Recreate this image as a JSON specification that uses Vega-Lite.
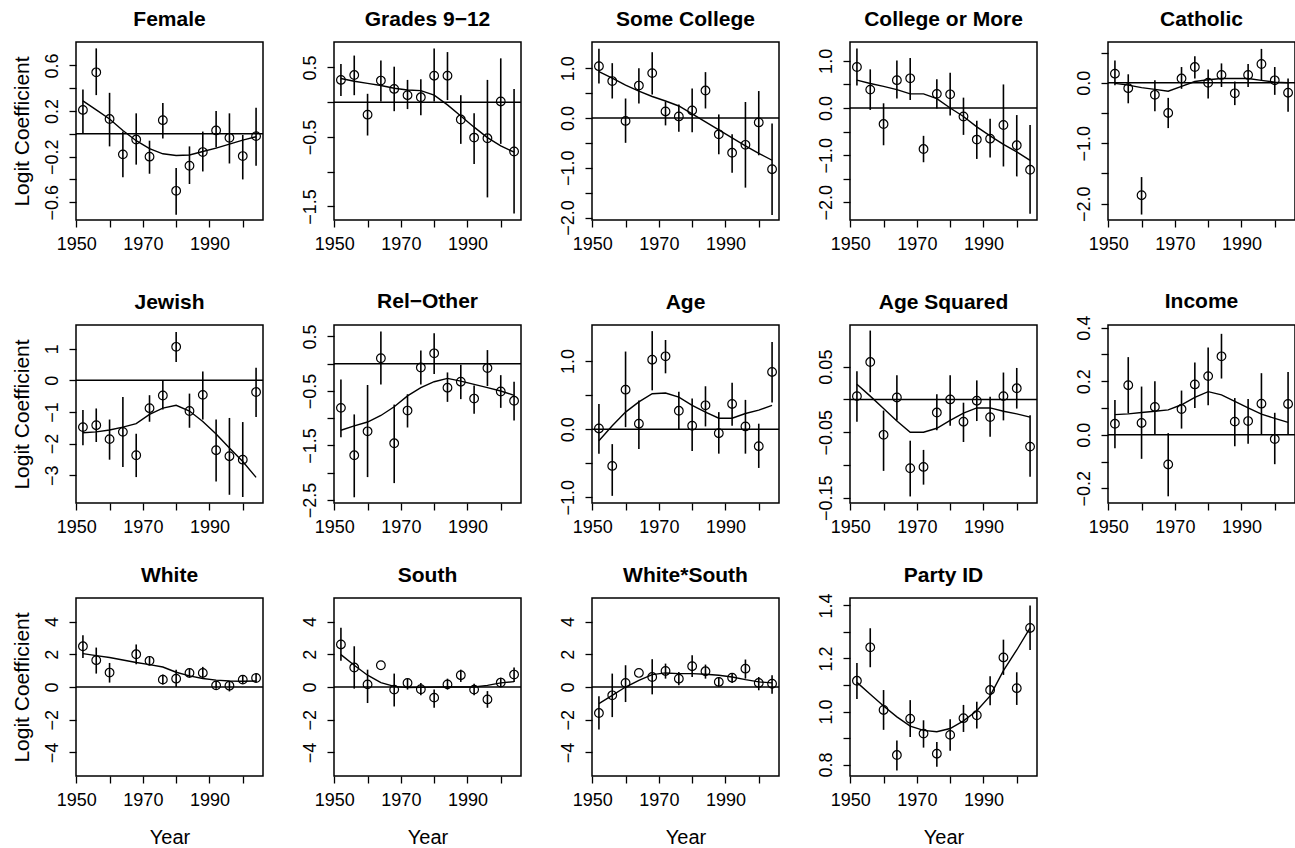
{
  "$schema": "https://vega.github.io/schema/vega-lite/v6.json",
  "padding": {"left": 10, "top": 8, "right": 0, "bottom": 0},
  "background": "white",
  "datasets": {
    "coef": [
      {"p": "Female", "yr": 1952, "est": 0.21, "lo": 0.0, "hi": 0.39, "fit": 0.29},
      {"p": "Female", "yr": 1956, "est": 0.54, "lo": 0.34, "hi": 0.75, "fit": 0.21},
      {"p": "Female", "yr": 1960, "est": 0.13, "lo": -0.11, "hi": 0.36, "fit": 0.13},
      {"p": "Female", "yr": 1964, "est": -0.18, "lo": -0.38, "hi": 0.02, "fit": 0.03},
      {"p": "Female", "yr": 1968, "est": -0.05, "lo": -0.27, "hi": 0.18, "fit": -0.06},
      {"p": "Female", "yr": 1972, "est": -0.2, "lo": -0.35, "hi": -0.06, "fit": -0.13},
      {"p": "Female", "yr": 1976, "est": 0.12, "lo": -0.04, "hi": 0.27, "fit": -0.175},
      {"p": "Female", "yr": 1980, "est": -0.5, "lo": -0.71, "hi": -0.3, "fit": -0.19},
      {"p": "Female", "yr": 1984, "est": -0.28, "lo": -0.44, "hi": -0.11, "fit": -0.185},
      {"p": "Female", "yr": 1988, "est": -0.16, "lo": -0.33, "hi": 0.02, "fit": -0.155},
      {"p": "Female", "yr": 1992, "est": 0.03, "lo": -0.12, "hi": 0.2, "fit": -0.125},
      {"p": "Female", "yr": 1996, "est": -0.035, "lo": -0.26, "hi": 0.18, "fit": -0.09},
      {"p": "Female", "yr": 2000, "est": -0.195, "lo": -0.4, "hi": -0.01, "fit": -0.055},
      {"p": "Female", "yr": 2004, "est": -0.02, "lo": -0.28, "hi": 0.23, "fit": -0.025},

      {"p": "Grades", "yr": 1952, "est": 0.32, "lo": 0.09, "hi": 0.55, "fit": 0.34},
      {"p": "Grades", "yr": 1956, "est": 0.39, "lo": 0.1, "hi": 0.67, "fit": 0.3},
      {"p": "Grades", "yr": 1960, "est": -0.18, "lo": -0.48, "hi": 0.12, "fit": 0.27},
      {"p": "Grades", "yr": 1964, "est": 0.31, "lo": 0.01, "hi": 0.6, "fit": 0.24},
      {"p": "Grades", "yr": 1968, "est": 0.19, "lo": -0.13, "hi": 0.51, "fit": 0.2},
      {"p": "Grades", "yr": 1972, "est": 0.1, "lo": -0.1, "hi": 0.32, "fit": 0.175},
      {"p": "Grades", "yr": 1976, "est": 0.07, "lo": -0.19, "hi": 0.33, "fit": 0.165},
      {"p": "Grades", "yr": 1980, "est": 0.38, "lo": 0.01, "hi": 0.77, "fit": 0.1},
      {"p": "Grades", "yr": 1984, "est": 0.38, "lo": 0.03, "hi": 0.72, "fit": -0.04},
      {"p": "Grades", "yr": 1988, "est": -0.25, "lo": -0.6, "hi": 0.1, "fit": -0.2},
      {"p": "Grades", "yr": 1992, "est": -0.51, "lo": -0.89, "hi": -0.16, "fit": -0.36},
      {"p": "Grades", "yr": 1996, "est": -0.52, "lo": -1.37, "hi": 0.32, "fit": -0.51},
      {"p": "Grades", "yr": 2000, "est": 0.01, "lo": -0.6, "hi": 0.63, "fit": -0.63},
      {"p": "Grades", "yr": 2004, "est": -0.71, "lo": -1.6, "hi": 0.19, "fit": -0.72},

      {"p": "SomeCollege", "yr": 1952, "est": 1.04, "lo": 0.69, "hi": 1.39, "fit": 0.93},
      {"p": "SomeCollege", "yr": 1956, "est": 0.74, "lo": 0.39, "hi": 1.1, "fit": 0.8},
      {"p": "SomeCollege", "yr": 1960, "est": -0.06, "lo": -0.5, "hi": 0.39, "fit": 0.66},
      {"p": "SomeCollege", "yr": 1964, "est": 0.65, "lo": 0.29, "hi": 1.0, "fit": 0.54},
      {"p": "SomeCollege", "yr": 1968, "est": 0.9, "lo": 0.47, "hi": 1.32, "fit": 0.43},
      {"p": "SomeCollege", "yr": 1972, "est": 0.13, "lo": -0.15, "hi": 0.33, "fit": 0.34},
      {"p": "SomeCollege", "yr": 1976, "est": 0.03, "lo": -0.28, "hi": 0.27, "fit": 0.24},
      {"p": "SomeCollege", "yr": 1980, "est": 0.15, "lo": -0.29, "hi": 0.59, "fit": 0.08},
      {"p": "SomeCollege", "yr": 1984, "est": 0.55, "lo": 0.19, "hi": 0.92, "fit": -0.08},
      {"p": "SomeCollege", "yr": 1988, "est": -0.33, "lo": -0.73, "hi": 0.07, "fit": -0.24},
      {"p": "SomeCollege", "yr": 1992, "est": -0.7, "lo": -1.1, "hi": -0.33, "fit": -0.4},
      {"p": "SomeCollege", "yr": 1996, "est": -0.54, "lo": -1.4, "hi": 0.32, "fit": -0.56},
      {"p": "SomeCollege", "yr": 2000, "est": -0.09, "lo": -0.75, "hi": 0.54, "fit": -0.71},
      {"p": "SomeCollege", "yr": 2004, "est": -1.03, "lo": -1.95, "hi": -0.11, "fit": -0.85},

      {"p": "College", "yr": 1952, "est": 0.87, "lo": 0.48, "hi": 1.26, "fit": 0.59},
      {"p": "College", "yr": 1956, "est": 0.39, "lo": -0.04, "hi": 0.82, "fit": 0.52},
      {"p": "College", "yr": 1960, "est": -0.34, "lo": -0.79, "hi": 0.1, "fit": 0.46},
      {"p": "College", "yr": 1964, "est": 0.59, "lo": 0.2, "hi": 1.01, "fit": 0.39},
      {"p": "College", "yr": 1968, "est": 0.63, "lo": 0.17, "hi": 1.06, "fit": 0.3},
      {"p": "College", "yr": 1972, "est": -0.87, "lo": -1.15, "hi": -0.59, "fit": 0.3},
      {"p": "College", "yr": 1976, "est": 0.3, "lo": -0.01, "hi": 0.61, "fit": 0.2},
      {"p": "College", "yr": 1980, "est": 0.29, "lo": -0.16, "hi": 0.75, "fit": 0.0},
      {"p": "College", "yr": 1984, "est": -0.18, "lo": -0.57, "hi": 0.22, "fit": -0.18},
      {"p": "College", "yr": 1988, "est": -0.67, "lo": -1.08, "hi": -0.27, "fit": -0.4},
      {"p": "College", "yr": 1992, "est": -0.65, "lo": -1.05, "hi": -0.23, "fit": -0.59},
      {"p": "College", "yr": 1996, "est": -0.36, "lo": -1.24, "hi": 0.5, "fit": -0.77},
      {"p": "College", "yr": 2000, "est": -0.79, "lo": -1.45, "hi": -0.15, "fit": -0.93},
      {"p": "College", "yr": 2004, "est": -1.31, "lo": -2.24, "hi": -0.36, "fit": -1.11},

      {"p": "Catholic", "yr": 1952, "est": 0.15, "lo": -0.04, "hi": 0.37, "fit": -0.01},
      {"p": "Catholic", "yr": 1956, "est": -0.09, "lo": -0.34, "hi": 0.14, "fit": -0.04},
      {"p": "Catholic", "yr": 1960, "est": -1.86, "lo": -2.18, "hi": -1.56, "fit": -0.08},
      {"p": "Catholic", "yr": 1964, "est": -0.2, "lo": -0.47, "hi": 0.04, "fit": -0.11},
      {"p": "Catholic", "yr": 1968, "est": -0.5, "lo": -0.75, "hi": -0.25, "fit": -0.14},
      {"p": "Catholic", "yr": 1972, "est": 0.07, "lo": -0.1, "hi": 0.26, "fit": -0.06},
      {"p": "Catholic", "yr": 1976, "est": 0.26, "lo": 0.07, "hi": 0.44, "fit": 0.02},
      {"p": "Catholic", "yr": 1980, "est": 0.0, "lo": -0.26, "hi": 0.22, "fit": 0.05},
      {"p": "Catholic", "yr": 1984, "est": 0.13, "lo": -0.07, "hi": 0.32, "fit": 0.07},
      {"p": "Catholic", "yr": 1988, "est": -0.175, "lo": -0.37, "hi": 0.02, "fit": 0.07},
      {"p": "Catholic", "yr": 1992, "est": 0.13, "lo": -0.07, "hi": 0.31, "fit": 0.07},
      {"p": "Catholic", "yr": 1996, "est": 0.31, "lo": 0.04, "hi": 0.56, "fit": 0.04},
      {"p": "Catholic", "yr": 2000, "est": 0.04, "lo": -0.2, "hi": 0.26, "fit": 0.01},
      {"p": "Catholic", "yr": 2004, "est": -0.165, "lo": -0.48, "hi": 0.07, "fit": 0.0},

      {"p": "Jewish", "yr": 1952, "est": -1.48, "lo": -2.05, "hi": -0.94, "fit": -1.66},
      {"p": "Jewish", "yr": 1956, "est": -1.42, "lo": -1.95, "hi": -0.89, "fit": -1.63},
      {"p": "Jewish", "yr": 1960, "est": -1.86, "lo": -2.51, "hi": -1.24, "fit": -1.57},
      {"p": "Jewish", "yr": 1964, "est": -1.63, "lo": -2.74, "hi": -0.53, "fit": -1.48},
      {"p": "Jewish", "yr": 1968, "est": -2.37, "lo": -3.06, "hi": -1.69, "fit": -1.37},
      {"p": "Jewish", "yr": 1972, "est": -0.88, "lo": -1.31, "hi": -0.47, "fit": -1.08},
      {"p": "Jewish", "yr": 1976, "est": -0.48, "lo": -0.92, "hi": 0.0, "fit": -0.88},
      {"p": "Jewish", "yr": 1980, "est": 1.06, "lo": 0.58, "hi": 1.53, "fit": -0.79},
      {"p": "Jewish", "yr": 1984, "est": -0.97, "lo": -1.5, "hi": -0.42, "fit": -0.97},
      {"p": "Jewish", "yr": 1988, "est": -0.46, "lo": -1.24, "hi": 0.28, "fit": -1.3},
      {"p": "Jewish", "yr": 1992, "est": -2.21, "lo": -3.2, "hi": -1.24, "fit": -1.7},
      {"p": "Jewish", "yr": 1996, "est": -2.4, "lo": -3.62, "hi": -1.19, "fit": -2.14},
      {"p": "Jewish", "yr": 2000, "est": -2.51, "lo": -3.69, "hi": -1.32, "fit": -2.57},
      {"p": "Jewish", "yr": 2004, "est": -0.37, "lo": -1.16, "hi": 0.4, "fit": -3.07},

      {"p": "RelOther", "yr": 1952, "est": -0.81, "lo": -1.35, "hi": -0.29, "fit": -1.22},
      {"p": "RelOther", "yr": 1956, "est": -1.68, "lo": -2.45, "hi": -0.93, "fit": -1.14},
      {"p": "RelOther", "yr": 1960, "est": -1.24, "lo": -2.08, "hi": -0.39, "fit": -1.07},
      {"p": "RelOther", "yr": 1964, "est": 0.1, "lo": -0.38, "hi": 0.59, "fit": -0.95},
      {"p": "RelOther", "yr": 1968, "est": -1.46, "lo": -2.19, "hi": -0.75, "fit": -0.79},
      {"p": "RelOther", "yr": 1972, "est": -0.86, "lo": -1.17, "hi": -0.56, "fit": -0.59},
      {"p": "RelOther", "yr": 1976, "est": -0.07, "lo": -0.38, "hi": 0.24, "fit": -0.44},
      {"p": "RelOther", "yr": 1980, "est": 0.19, "lo": -0.19, "hi": 0.56, "fit": -0.33},
      {"p": "RelOther", "yr": 1984, "est": -0.44, "lo": -0.7, "hi": -0.16, "fit": -0.27},
      {"p": "RelOther", "yr": 1988, "est": -0.33, "lo": -0.65, "hi": -0.02, "fit": -0.32},
      {"p": "RelOther", "yr": 1992, "est": -0.64, "lo": -0.92, "hi": -0.4, "fit": -0.38},
      {"p": "RelOther", "yr": 1996, "est": -0.08, "lo": -0.41, "hi": 0.25, "fit": -0.44},
      {"p": "RelOther", "yr": 2000, "est": -0.51, "lo": -0.81, "hi": -0.21, "fit": -0.5},
      {"p": "RelOther", "yr": 2004, "est": -0.68, "lo": -1.04, "hi": -0.33, "fit": -0.58},

      {"p": "Age", "yr": 1952, "est": 0.01, "lo": -0.36, "hi": 0.37, "fit": -0.17},
      {"p": "Age", "yr": 1956, "est": -0.54, "lo": -0.98, "hi": -0.22, "fit": 0.05},
      {"p": "Age", "yr": 1960, "est": 0.58, "lo": 0.03, "hi": 1.14, "fit": 0.25},
      {"p": "Age", "yr": 1964, "est": 0.08, "lo": -0.29, "hi": 0.42, "fit": 0.4},
      {"p": "Age", "yr": 1968, "est": 1.02, "lo": 0.57, "hi": 1.44, "fit": 0.52},
      {"p": "Age", "yr": 1972, "est": 1.07, "lo": 0.82, "hi": 1.31, "fit": 0.53},
      {"p": "Age", "yr": 1976, "est": 0.27, "lo": -0.01, "hi": 0.55, "fit": 0.47},
      {"p": "Age", "yr": 1980, "est": 0.05, "lo": -0.32, "hi": 0.45, "fit": 0.35},
      {"p": "Age", "yr": 1984, "est": 0.35, "lo": 0.04, "hi": 0.63, "fit": 0.25},
      {"p": "Age", "yr": 1988, "est": -0.06, "lo": -0.36, "hi": 0.25, "fit": 0.16},
      {"p": "Age", "yr": 1992, "est": 0.37, "lo": 0.05, "hi": 0.68, "fit": 0.16},
      {"p": "Age", "yr": 1996, "est": 0.04, "lo": -0.36, "hi": 0.43, "fit": 0.23},
      {"p": "Age", "yr": 2000, "est": -0.25, "lo": -0.57, "hi": 0.08, "fit": 0.28},
      {"p": "Age", "yr": 2004, "est": 0.84, "lo": 0.39, "hi": 1.28, "fit": 0.35},

      {"p": "AgeSq", "yr": 1952, "est": 0.005, "lo": -0.034, "hi": 0.043, "fit": 0.023},
      {"p": "AgeSq", "yr": 1956, "est": 0.057, "lo": 0.011, "hi": 0.105, "fit": 0.005},
      {"p": "AgeSq", "yr": 1960, "est": -0.054, "lo": -0.109, "hi": -0.017, "fit": -0.014},
      {"p": "AgeSq", "yr": 1964, "est": 0.003, "lo": -0.032, "hi": 0.037, "fit": -0.033},
      {"p": "AgeSq", "yr": 1968, "est": -0.105, "lo": -0.148, "hi": -0.063, "fit": -0.05},
      {"p": "AgeSq", "yr": 1972, "est": -0.103, "lo": -0.13, "hi": -0.077, "fit": -0.05},
      {"p": "AgeSq", "yr": 1976, "est": -0.02, "lo": -0.047, "hi": 0.008, "fit": -0.044},
      {"p": "AgeSq", "yr": 1980, "est": 0.0, "lo": -0.04, "hi": 0.037, "fit": -0.032},
      {"p": "AgeSq", "yr": 1984, "est": -0.034, "lo": -0.065, "hi": -0.005, "fit": -0.021},
      {"p": "AgeSq", "yr": 1988, "est": -0.002, "lo": -0.033, "hi": 0.029, "fit": -0.013},
      {"p": "AgeSq", "yr": 1992, "est": -0.027, "lo": -0.057, "hi": 0.004, "fit": -0.013},
      {"p": "AgeSq", "yr": 1996, "est": 0.005, "lo": -0.032, "hi": 0.041, "fit": -0.018},
      {"p": "AgeSq", "yr": 2000, "est": 0.017, "lo": -0.014, "hi": 0.048, "fit": -0.022},
      {"p": "AgeSq", "yr": 2004, "est": -0.072, "lo": -0.118, "hi": -0.024, "fit": -0.027},

      {"p": "Income", "yr": 1952, "est": 0.041, "lo": -0.05, "hi": 0.13, "fit": 0.075},
      {"p": "Income", "yr": 1956, "est": 0.185, "lo": 0.08, "hi": 0.29, "fit": 0.078},
      {"p": "Income", "yr": 1960, "est": 0.044, "lo": -0.09, "hi": 0.18, "fit": 0.083},
      {"p": "Income", "yr": 1964, "est": 0.104, "lo": 0.0, "hi": 0.2, "fit": 0.088},
      {"p": "Income", "yr": 1968, "est": -0.111, "lo": -0.23, "hi": 0.006, "fit": 0.093},
      {"p": "Income", "yr": 1972, "est": 0.096, "lo": 0.023, "hi": 0.165, "fit": 0.112},
      {"p": "Income", "yr": 1976, "est": 0.188, "lo": 0.1, "hi": 0.27, "fit": 0.14},
      {"p": "Income", "yr": 1980, "est": 0.219, "lo": 0.11, "hi": 0.326, "fit": 0.161},
      {"p": "Income", "yr": 1984, "est": 0.293, "lo": 0.21, "hi": 0.377, "fit": 0.149},
      {"p": "Income", "yr": 1988, "est": 0.049, "lo": -0.043, "hi": 0.137, "fit": 0.125},
      {"p": "Income", "yr": 1992, "est": 0.051, "lo": -0.034, "hi": 0.134, "fit": 0.1},
      {"p": "Income", "yr": 1996, "est": 0.116, "lo": 0.0, "hi": 0.23, "fit": 0.077},
      {"p": "Income", "yr": 2000, "est": -0.016, "lo": -0.11, "hi": 0.082, "fit": 0.061},
      {"p": "Income", "yr": 2004, "est": 0.115, "lo": 0.0, "hi": 0.234, "fit": 0.046},

      {"p": "White", "yr": 1952, "est": 2.49, "lo": 1.78, "hi": 3.17, "fit": 2.04},
      {"p": "White", "yr": 1956, "est": 1.64, "lo": 0.82, "hi": 2.41, "fit": 1.92},
      {"p": "White", "yr": 1960, "est": 0.88, "lo": 0.27, "hi": 1.47, "fit": 1.8},
      {"p": "White", "yr": 1964, "est": null, "lo": null, "hi": null, "fit": 1.65},
      {"p": "White", "yr": 1968, "est": 2.0, "lo": 1.39, "hi": 2.6, "fit": 1.5},
      {"p": "White", "yr": 1972, "est": 1.6, "lo": 1.33, "hi": 1.88, "fit": 1.37},
      {"p": "White", "yr": 1976, "est": 0.45, "lo": 0.16, "hi": 0.76, "fit": 1.22},
      {"p": "White", "yr": 1980, "est": 0.51, "lo": 0.0, "hi": 1.06, "fit": 0.9},
      {"p": "White", "yr": 1984, "est": 0.86, "lo": 0.57, "hi": 1.12, "fit": 0.68},
      {"p": "White", "yr": 1988, "est": 0.86, "lo": 0.51, "hi": 1.23, "fit": 0.52},
      {"p": "White", "yr": 1992, "est": 0.1, "lo": -0.1, "hi": 0.37, "fit": 0.42},
      {"p": "White", "yr": 1996, "est": 0.08, "lo": -0.27, "hi": 0.37, "fit": 0.37},
      {"p": "White", "yr": 2000, "est": 0.45, "lo": 0.2, "hi": 0.72, "fit": 0.35},
      {"p": "White", "yr": 2004, "est": 0.55, "lo": 0.29, "hi": 0.82, "fit": 0.37},

      {"p": "South", "yr": 1952, "est": 2.6, "lo": 1.6, "hi": 3.62, "fit": 1.98},
      {"p": "South", "yr": 1956, "est": 1.19, "lo": -0.1, "hi": 2.49, "fit": 1.33},
      {"p": "South", "yr": 1960, "est": 0.16, "lo": -0.98, "hi": 1.06, "fit": 0.72},
      {"p": "South", "yr": 1964, "est": 1.33, "lo": null, "hi": null, "fit": 0.27},
      {"p": "South", "yr": 1968, "est": -0.16, "lo": -1.19, "hi": 0.82, "fit": 0.04},
      {"p": "South", "yr": 1972, "est": 0.25, "lo": -0.16, "hi": 0.51, "fit": -0.04},
      {"p": "South", "yr": 1976, "est": -0.14, "lo": -0.51, "hi": 0.25, "fit": -0.02},
      {"p": "South", "yr": 1980, "est": -0.65, "lo": -1.27, "hi": -0.16, "fit": -0.01},
      {"p": "South", "yr": 1984, "est": 0.16, "lo": -0.16, "hi": 0.51, "fit": 0.0},
      {"p": "South", "yr": 1988, "est": 0.72, "lo": 0.31, "hi": 1.06, "fit": 0.0},
      {"p": "South", "yr": 1992, "est": -0.16, "lo": -0.51, "hi": 0.2, "fit": 0.0},
      {"p": "South", "yr": 1996, "est": -0.76, "lo": -1.27, "hi": -0.25, "fit": 0.1},
      {"p": "South", "yr": 2000, "est": 0.27, "lo": 0.0, "hi": 0.57, "fit": 0.25},
      {"p": "South", "yr": 2004, "est": 0.76, "lo": 0.31, "hi": 1.19, "fit": 0.33},

      {"p": "WhiteSouth", "yr": 1952, "est": -1.59, "lo": -2.6, "hi": -0.57, "fit": -1.02},
      {"p": "WhiteSouth", "yr": 1956, "est": -0.51, "lo": -1.84, "hi": 0.82, "fit": -0.51},
      {"p": "WhiteSouth", "yr": 1960, "est": 0.25, "lo": -0.92, "hi": 1.33, "fit": 0.0},
      {"p": "WhiteSouth", "yr": 1964, "est": 0.86, "lo": null, "hi": null, "fit": 0.41},
      {"p": "WhiteSouth", "yr": 1968, "est": 0.61, "lo": -0.45, "hi": 1.7, "fit": 0.76},
      {"p": "WhiteSouth", "yr": 1972, "est": 0.98, "lo": 0.51, "hi": 1.43, "fit": 0.86},
      {"p": "WhiteSouth", "yr": 1976, "est": 0.51, "lo": 0.1, "hi": 0.92, "fit": 0.82},
      {"p": "WhiteSouth", "yr": 1980, "est": 1.27, "lo": 0.61, "hi": 1.94, "fit": 0.82},
      {"p": "WhiteSouth", "yr": 1984, "est": 0.96, "lo": 0.51, "hi": 1.37, "fit": 0.78},
      {"p": "WhiteSouth", "yr": 1988, "est": 0.31, "lo": 0.0, "hi": 0.61, "fit": 0.72},
      {"p": "WhiteSouth", "yr": 1992, "est": 0.57, "lo": 0.25, "hi": 0.86, "fit": 0.61},
      {"p": "WhiteSouth", "yr": 1996, "est": 1.12, "lo": 0.51, "hi": 1.68, "fit": 0.45},
      {"p": "WhiteSouth", "yr": 2000, "est": 0.25, "lo": -0.2, "hi": 0.61, "fit": 0.31},
      {"p": "WhiteSouth", "yr": 2004, "est": 0.2, "lo": -0.41, "hi": 0.72, "fit": 0.25},

      {"p": "PartyID", "yr": 1952, "est": 1.116, "lo": 1.047, "hi": 1.183, "fit": 1.11},
      {"p": "PartyID", "yr": 1956, "est": 1.242, "lo": 1.167, "hi": 1.314, "fit": 1.065},
      {"p": "PartyID", "yr": 1960, "est": 1.006, "lo": 0.931, "hi": 1.081, "fit": 1.021},
      {"p": "PartyID", "yr": 1964, "est": 0.836, "lo": 0.778, "hi": 0.891, "fit": 0.98},
      {"p": "PartyID", "yr": 1968, "est": 0.973, "lo": 0.904, "hi": 1.043, "fit": 0.945},
      {"p": "PartyID", "yr": 1972, "est": 0.917, "lo": 0.864, "hi": 0.967, "fit": 0.929},
      {"p": "PartyID", "yr": 1976, "est": 0.841, "lo": 0.792, "hi": 0.885, "fit": 0.924},
      {"p": "PartyID", "yr": 1980, "est": 0.912, "lo": 0.852, "hi": 0.971, "fit": 0.936},
      {"p": "PartyID", "yr": 1984, "est": 0.975, "lo": 0.923, "hi": 1.025, "fit": 0.965},
      {"p": "PartyID", "yr": 1988, "est": 0.986, "lo": 0.936, "hi": 1.037, "fit": 1.003},
      {"p": "PartyID", "yr": 1992, "est": 1.081, "lo": 1.024, "hi": 1.133, "fit": 1.059},
      {"p": "PartyID", "yr": 1996, "est": 1.204, "lo": 1.138, "hi": 1.271, "fit": 1.154},
      {"p": "PartyID", "yr": 2000, "est": 1.088, "lo": 1.025, "hi": 1.148, "fit": 1.232},
      {"p": "PartyID", "yr": 2004, "est": 1.315, "lo": 1.232, "hi": 1.4, "fit": 1.315}
    ]
  },
  "data": {"name": "coef"},
  "spacing": 36,
  "vconcat": [
    {
      "spacing": 35,
      "hconcat": [
        {
          "title": "Female", "width": 187, "height": 178,
          "transform": [{"filter": "datum.p === 'Female'"}],
          "encoding": {
            "x": {"field": "yr", "type": "quantitative", "scale": {"domain": [1949.92, 2006.08], "nice": false, "zero": false}, "axis": {"values": [1950, 1960, 1970, 1980, 1990, 2000], "title": null}},
            "y": {"field": "est", "type": "quantitative", "scale": {"domain": [-0.756, 0.806], "nice": false, "zero": false},
                  "axis": {"values": [-0.6, -0.4, -0.2, 0, 0.2, 0.4, 0.6], "format": ".1f", "labelExpr": "indexof([-0.6, -0.2, 0.2, 0.6], datum.value) >= 0 ? datum.label : ''", "title": "Logit Coefficient"}}
          },
          "layer": [
            {"transform": [{"filter": "datum.yr === 1952"}], "mark": {"type": "rule", "color": "black", "strokeWidth": 1.5},
             "encoding": {"x": {"datum": 1949.92}, "x2": {"datum": 2006.08}, "y": {"datum": 0}}},
            {"mark": {"type": "rule", "color": "black", "strokeWidth": 1.6}, "encoding": {"y": {"field": "lo", "type": "quantitative"}, "y2": {"field": "hi"}}},
            {"mark": {"type": "line", "color": "black", "strokeWidth": 1.4}, "encoding": {"y": {"field": "fit", "type": "quantitative"}}},
            {"mark": {"type": "point", "shape": "circle", "filled": false, "color": "black", "size": 75, "strokeWidth": 1.2, "opacity": 1}}
          ]
        },
        {
          "title": "Grades 9−12", "width": 187, "height": 178,
          "transform": [{"filter": "datum.p === 'Grades'"}],
          "encoding": {
            "x": {"field": "yr", "type": "quantitative", "scale": {"domain": [1949.92, 2006.08], "nice": false, "zero": false}, "axis": {"values": [1950, 1960, 1970, 1980, 1990, 2000], "title": null}},
            "y": {"field": "est", "type": "quantitative", "scale": {"domain": [-1.695, 0.865], "nice": false, "zero": false},
                  "axis": {"values": [-1.5, -1, -0.5, 0, 0.5], "format": ".1f", "labelExpr": "indexof([-1.5, -0.5, 0.5], datum.value) >= 0 ? datum.label : ''", "title": null}}
          },
          "layer": [
            {"transform": [{"filter": "datum.yr === 1952"}], "mark": {"type": "rule", "color": "black", "strokeWidth": 1.5},
             "encoding": {"x": {"datum": 1949.92}, "x2": {"datum": 2006.08}, "y": {"datum": 0}}},
            {"mark": {"type": "rule", "color": "black", "strokeWidth": 1.6}, "encoding": {"y": {"field": "lo", "type": "quantitative"}, "y2": {"field": "hi"}}},
            {"mark": {"type": "line", "color": "black", "strokeWidth": 1.4}, "encoding": {"y": {"field": "fit", "type": "quantitative"}}},
            {"mark": {"type": "point", "shape": "circle", "filled": false, "color": "black", "size": 75, "strokeWidth": 1.2, "opacity": 1}}
          ]
        },
        {
          "title": "Some College", "width": 187, "height": 178,
          "transform": [{"filter": "datum.p === 'SomeCollege'"}],
          "encoding": {
            "x": {"field": "yr", "type": "quantitative", "scale": {"domain": [1949.92, 2006.08], "nice": false, "zero": false}, "axis": {"values": [1950, 1960, 1970, 1980, 1990, 2000], "title": null}},
            "y": {"field": "est", "type": "quantitative", "scale": {"domain": [-2.05, 1.525], "nice": false, "zero": false},
                  "axis": {"values": [-2, -1.5, -1, -0.5, 0, 0.5, 1], "format": ".1f", "labelExpr": "indexof([-2, -1, 0, 1], datum.value) >= 0 ? datum.label : ''", "title": null}}
          },
          "layer": [
            {"transform": [{"filter": "datum.yr === 1952"}], "mark": {"type": "rule", "color": "black", "strokeWidth": 1.5},
             "encoding": {"x": {"datum": 1949.92}, "x2": {"datum": 2006.08}, "y": {"datum": 0}}},
            {"mark": {"type": "rule", "color": "black", "strokeWidth": 1.6}, "encoding": {"y": {"field": "lo", "type": "quantitative"}, "y2": {"field": "hi"}}},
            {"mark": {"type": "line", "color": "black", "strokeWidth": 1.4}, "encoding": {"y": {"field": "fit", "type": "quantitative"}}},
            {"mark": {"type": "point", "shape": "circle", "filled": false, "color": "black", "size": 75, "strokeWidth": 1.2, "opacity": 1}}
          ]
        },
        {
          "title": "College or More", "width": 187, "height": 178,
          "transform": [{"filter": "datum.p === 'College'"}],
          "encoding": {
            "x": {"field": "yr", "type": "quantitative", "scale": {"domain": [1949.92, 2006.08], "nice": false, "zero": false}, "axis": {"values": [1950, 1960, 1970, 1980, 1990, 2000], "title": null}},
            "y": {"field": "est", "type": "quantitative", "scale": {"domain": [-2.375, 1.4], "nice": false, "zero": false},
                  "axis": {"values": [-2, -1.5, -1, -0.5, 0, 0.5, 1], "format": ".1f", "labelExpr": "indexof([-2, -1, 0, 1], datum.value) >= 0 ? datum.label : ''", "title": null}}
          },
          "layer": [
            {"transform": [{"filter": "datum.yr === 1952"}], "mark": {"type": "rule", "color": "black", "strokeWidth": 1.5},
             "encoding": {"x": {"datum": 1949.92}, "x2": {"datum": 2006.08}, "y": {"datum": 0}}},
            {"mark": {"type": "rule", "color": "black", "strokeWidth": 1.6}, "encoding": {"y": {"field": "lo", "type": "quantitative"}, "y2": {"field": "hi"}}},
            {"mark": {"type": "line", "color": "black", "strokeWidth": 1.4}, "encoding": {"y": {"field": "fit", "type": "quantitative"}}},
            {"mark": {"type": "point", "shape": "circle", "filled": false, "color": "black", "size": 75, "strokeWidth": 1.2, "opacity": 1}}
          ]
        },
        {
          "title": "Catholic", "width": 187, "height": 178,
          "transform": [{"filter": "datum.p === 'Catholic'"}],
          "encoding": {
            "x": {"field": "yr", "type": "quantitative", "scale": {"domain": [1949.92, 2006.08], "nice": false, "zero": false}, "axis": {"values": [1950, 1960, 1970, 1980, 1990, 2000], "title": null}},
            "y": {"field": "est", "type": "quantitative", "scale": {"domain": [-2.27, 0.674], "nice": false, "zero": false},
                  "axis": {"values": [-2, -1.5, -1, -0.5, 0, 0.5], "format": ".1f", "labelExpr": "indexof([-2, -1, 0], datum.value) >= 0 ? datum.label : ''", "title": null}}
          },
          "layer": [
            {"transform": [{"filter": "datum.yr === 1952"}], "mark": {"type": "rule", "color": "black", "strokeWidth": 1.5},
             "encoding": {"x": {"datum": 1949.92}, "x2": {"datum": 2006.08}, "y": {"datum": 0}}},
            {"mark": {"type": "rule", "color": "black", "strokeWidth": 1.6}, "encoding": {"y": {"field": "lo", "type": "quantitative"}, "y2": {"field": "hi"}}},
            {"mark": {"type": "line", "color": "black", "strokeWidth": 1.4}, "encoding": {"y": {"field": "fit", "type": "quantitative"}}},
            {"mark": {"type": "point", "shape": "circle", "filled": false, "color": "black", "size": 75, "strokeWidth": 1.2, "opacity": 1}}
          ]
        }
      ]
    },
    {
      "spacing": 27,
      "vconcat": [
        {
          "spacing": 35,
          "hconcat": [
            {
              "title": "Jewish", "width": 187, "height": 178,
              "transform": [{"filter": "datum.p === 'Jewish'"}],
              "encoding": {
                "x": {"field": "yr", "type": "quantitative", "scale": {"domain": [1949.92, 2006.08], "nice": false, "zero": false}, "axis": {"values": [1950, 1960, 1970, 1980, 1990, 2000], "title": null}},
                "y": {"field": "est", "type": "quantitative", "scale": {"domain": [-3.88, 1.75], "nice": false, "zero": false},
                      "axis": {"values": [-3, -2, -1, 0, 1], "format": "d", "title": "Logit Coefficient"}}
              },
              "layer": [
                {"transform": [{"filter": "datum.yr === 1952"}], "mark": {"type": "rule", "color": "black", "strokeWidth": 1.5},
                 "encoding": {"x": {"datum": 1949.92}, "x2": {"datum": 2006.08}, "y": {"datum": 0}}},
                {"mark": {"type": "rule", "color": "black", "strokeWidth": 1.6}, "encoding": {"y": {"field": "lo", "type": "quantitative"}, "y2": {"field": "hi"}}},
                {"mark": {"type": "line", "color": "black", "strokeWidth": 1.4}, "encoding": {"y": {"field": "fit", "type": "quantitative"}}},
                {"mark": {"type": "point", "shape": "circle", "filled": false, "color": "black", "size": 75, "strokeWidth": 1.2, "opacity": 1}}
              ]
            },
            {
              "title": "Rel−Other", "width": 187, "height": 178,
              "transform": [{"filter": "datum.p === 'RelOther'"}],
              "encoding": {
                "x": {"field": "yr", "type": "quantitative", "scale": {"domain": [1949.92, 2006.08], "nice": false, "zero": false}, "axis": {"values": [1950, 1960, 1970, 1980, 1990, 2000], "title": null}},
                "y": {"field": "est", "type": "quantitative", "scale": {"domain": [-2.555, 0.71], "nice": false, "zero": false},
                      "axis": {"values": [-2.5, -2, -1.5, -1, -0.5, 0, 0.5], "format": ".1f", "labelExpr": "indexof([-2.5, -1.5, -0.5, 0.5], datum.value) >= 0 ? datum.label : ''", "title": null}}
              },
              "layer": [
                {"transform": [{"filter": "datum.yr === 1952"}], "mark": {"type": "rule", "color": "black", "strokeWidth": 1.5},
                 "encoding": {"x": {"datum": 1949.92}, "x2": {"datum": 2006.08}, "y": {"datum": 0}}},
                {"mark": {"type": "rule", "color": "black", "strokeWidth": 1.6}, "encoding": {"y": {"field": "lo", "type": "quantitative"}, "y2": {"field": "hi"}}},
                {"mark": {"type": "line", "color": "black", "strokeWidth": 1.4}, "encoding": {"y": {"field": "fit", "type": "quantitative"}}},
                {"mark": {"type": "point", "shape": "circle", "filled": false, "color": "black", "size": 75, "strokeWidth": 1.2, "opacity": 1}}
              ]
            },
            {
              "title": "Age", "width": 187, "height": 178,
              "transform": [{"filter": "datum.p === 'Age'"}],
              "encoding": {
                "x": {"field": "yr", "type": "quantitative", "scale": {"domain": [1949.92, 2006.08], "nice": false, "zero": false}, "axis": {"values": [1950, 1960, 1970, 1980, 1990, 2000], "title": null}},
                "y": {"field": "est", "type": "quantitative", "scale": {"domain": [-1.085, 1.53], "nice": false, "zero": false},
                      "axis": {"values": [-1, -0.5, 0, 0.5, 1], "format": ".1f", "labelExpr": "indexof([-1, 0, 1], datum.value) >= 0 ? datum.label : ''", "title": null}}
              },
              "layer": [
                {"transform": [{"filter": "datum.yr === 1952"}], "mark": {"type": "rule", "color": "black", "strokeWidth": 1.5},
                 "encoding": {"x": {"datum": 1949.92}, "x2": {"datum": 2006.08}, "y": {"datum": 0}}},
                {"mark": {"type": "rule", "color": "black", "strokeWidth": 1.6}, "encoding": {"y": {"field": "lo", "type": "quantitative"}, "y2": {"field": "hi"}}},
                {"mark": {"type": "line", "color": "black", "strokeWidth": 1.4}, "encoding": {"y": {"field": "fit", "type": "quantitative"}}},
                {"mark": {"type": "point", "shape": "circle", "filled": false, "color": "black", "size": 75, "strokeWidth": 1.2, "opacity": 1}}
              ]
            },
            {
              "title": "Age Squared", "width": 187, "height": 178,
              "transform": [{"filter": "datum.p === 'AgeSq'"}],
              "encoding": {
                "x": {"field": "yr", "type": "quantitative", "scale": {"domain": [1949.92, 2006.08], "nice": false, "zero": false}, "axis": {"values": [1950, 1960, 1970, 1980, 1990, 2000], "title": null}},
                "y": {"field": "est", "type": "quantitative", "scale": {"domain": [-0.158, 0.1135], "nice": false, "zero": false},
                      "axis": {"values": [-0.15, -0.1, -0.05, 0, 0.05], "format": ".2f", "labelExpr": "indexof([-0.15, -0.05, 0.05], datum.value) >= 0 ? datum.label : ''", "title": null}}
              },
              "layer": [
                {"transform": [{"filter": "datum.yr === 1952"}], "mark": {"type": "rule", "color": "black", "strokeWidth": 1.5},
                 "encoding": {"x": {"datum": 1949.92}, "x2": {"datum": 2006.08}, "y": {"datum": 0}}},
                {"mark": {"type": "rule", "color": "black", "strokeWidth": 1.6}, "encoding": {"y": {"field": "lo", "type": "quantitative"}, "y2": {"field": "hi"}}},
                {"mark": {"type": "line", "color": "black", "strokeWidth": 1.4}, "encoding": {"y": {"field": "fit", "type": "quantitative"}}},
                {"mark": {"type": "point", "shape": "circle", "filled": false, "color": "black", "size": 75, "strokeWidth": 1.2, "opacity": 1}}
              ]
            },
            {
              "title": {"text": "Income", "offset": 3}, "width": 187, "height": 178,
              "transform": [{"filter": "datum.p === 'Income'"}],
              "encoding": {
                "x": {"field": "yr", "type": "quantitative", "scale": {"domain": [1949.92, 2006.08], "nice": false, "zero": false}, "axis": {"values": [1950, 1960, 1970, 1980, 1990, 2000], "title": null}},
                "y": {"field": "est", "type": "quantitative", "scale": {"domain": [-0.255, 0.41], "nice": false, "zero": false},
                      "axis": {"values": [-0.2, -0.1, 0, 0.1, 0.2, 0.3, 0.4], "format": ".1f", "labelExpr": "indexof([-0.2, 0, 0.2, 0.4], datum.value) >= 0 ? datum.label : ''", "title": null}}
              },
              "layer": [
                {"transform": [{"filter": "datum.yr === 1952"}], "mark": {"type": "rule", "color": "black", "strokeWidth": 1.5},
                 "encoding": {"x": {"datum": 1949.92}, "x2": {"datum": 2006.08}, "y": {"datum": 0}}},
                {"mark": {"type": "rule", "color": "black", "strokeWidth": 1.6}, "encoding": {"y": {"field": "lo", "type": "quantitative"}, "y2": {"field": "hi"}}},
                {"mark": {"type": "line", "color": "black", "strokeWidth": 1.4}, "encoding": {"y": {"field": "fit", "type": "quantitative"}}},
                {"mark": {"type": "point", "shape": "circle", "filled": false, "color": "black", "size": 75, "strokeWidth": 1.2, "opacity": 1}}
              ]
            }
          ]
        },
        {
          "spacing": 35,
          "hconcat": [
            {
              "title": "White", "width": 187, "height": 178,
              "transform": [{"filter": "datum.p === 'White'"}],
              "encoding": {
                "x": {"field": "yr", "type": "quantitative", "scale": {"domain": [1949.92, 2006.08], "nice": false, "zero": false}, "axis": {"values": [1950, 1960, 1970, 1980, 1990, 2000], "title": "Year"}},
                "y": {"field": "est", "type": "quantitative", "scale": {"domain": [-5.44, 5.44], "nice": false, "zero": false},
                      "axis": {"values": [-4, -2, 0, 2, 4], "format": "d", "title": "Logit Coefficient"}}
              },
              "layer": [
                {"transform": [{"filter": "datum.yr === 1952"}], "mark": {"type": "rule", "color": "black", "strokeWidth": 1.5},
                 "encoding": {"x": {"datum": 1949.92}, "x2": {"datum": 2006.08}, "y": {"datum": 0}}},
                {"mark": {"type": "rule", "color": "black", "strokeWidth": 1.6}, "encoding": {"y": {"field": "lo", "type": "quantitative"}, "y2": {"field": "hi"}}},
                {"mark": {"type": "line", "color": "black", "strokeWidth": 1.4}, "encoding": {"y": {"field": "fit", "type": "quantitative"}}},
                {"mark": {"type": "point", "shape": "circle", "filled": false, "color": "black", "size": 75, "strokeWidth": 1.2, "opacity": 1}}
              ]
            },
            {
              "title": "South", "width": 187, "height": 178,
              "transform": [{"filter": "datum.p === 'South'"}],
              "encoding": {
                "x": {"field": "yr", "type": "quantitative", "scale": {"domain": [1949.92, 2006.08], "nice": false, "zero": false}, "axis": {"values": [1950, 1960, 1970, 1980, 1990, 2000], "title": "Year"}},
                "y": {"field": "est", "type": "quantitative", "scale": {"domain": [-5.44, 5.44], "nice": false, "zero": false},
                      "axis": {"values": [-4, -2, 0, 2, 4], "format": "d", "title": null}}
              },
              "layer": [
                {"transform": [{"filter": "datum.yr === 1952"}], "mark": {"type": "rule", "color": "black", "strokeWidth": 1.5},
                 "encoding": {"x": {"datum": 1949.92}, "x2": {"datum": 2006.08}, "y": {"datum": 0}}},
                {"mark": {"type": "rule", "color": "black", "strokeWidth": 1.6}, "encoding": {"y": {"field": "lo", "type": "quantitative"}, "y2": {"field": "hi"}}},
                {"mark": {"type": "line", "color": "black", "strokeWidth": 1.4}, "encoding": {"y": {"field": "fit", "type": "quantitative"}}},
                {"mark": {"type": "point", "shape": "circle", "filled": false, "color": "black", "size": 75, "strokeWidth": 1.2, "opacity": 1}}
              ]
            },
            {
              "title": "White*South", "width": 187, "height": 178,
              "transform": [{"filter": "datum.p === 'WhiteSouth'"}],
              "encoding": {
                "x": {"field": "yr", "type": "quantitative", "scale": {"domain": [1949.92, 2006.08], "nice": false, "zero": false}, "axis": {"values": [1950, 1960, 1970, 1980, 1990, 2000], "title": "Year"}},
                "y": {"field": "est", "type": "quantitative", "scale": {"domain": [-5.44, 5.44], "nice": false, "zero": false},
                      "axis": {"values": [-4, -2, 0, 2, 4], "format": "d", "title": null}}
              },
              "layer": [
                {"transform": [{"filter": "datum.yr === 1952"}], "mark": {"type": "rule", "color": "black", "strokeWidth": 1.5},
                 "encoding": {"x": {"datum": 1949.92}, "x2": {"datum": 2006.08}, "y": {"datum": 0}}},
                {"mark": {"type": "rule", "color": "black", "strokeWidth": 1.6}, "encoding": {"y": {"field": "lo", "type": "quantitative"}, "y2": {"field": "hi"}}},
                {"mark": {"type": "line", "color": "black", "strokeWidth": 1.4}, "encoding": {"y": {"field": "fit", "type": "quantitative"}}},
                {"mark": {"type": "point", "shape": "circle", "filled": false, "color": "black", "size": 75, "strokeWidth": 1.2, "opacity": 1}}
              ]
            },
            {
              "title": {"text": "Party ID", "offset": 7}, "width": 187, "height": 178,
              "transform": [{"filter": "datum.p === 'PartyID'"}],
              "encoding": {
                "x": {"field": "yr", "type": "quantitative", "scale": {"domain": [1949.92, 2006.08], "nice": false, "zero": false}, "axis": {"values": [1950, 1960, 1970, 1980, 1990, 2000], "title": "Year"}},
                "y": {"field": "est", "type": "quantitative", "scale": {"domain": [0.757, 1.428], "nice": false, "zero": false},
                      "axis": {"values": [0.8, 0.9, 1, 1.1, 1.2, 1.3, 1.4], "format": ".1f", "labelExpr": "indexof([0.8, 1, 1.2, 1.4], datum.value) >= 0 ? datum.label : ''", "title": null}}
              },
              "layer": [
                {"mark": {"type": "rule", "color": "black", "strokeWidth": 1.6}, "encoding": {"y": {"field": "lo", "type": "quantitative"}, "y2": {"field": "hi"}}},
                {"mark": {"type": "line", "color": "black", "strokeWidth": 1.4}, "encoding": {"y": {"field": "fit", "type": "quantitative"}}},
                {"mark": {"type": "point", "shape": "circle", "filled": false, "color": "black", "size": 75, "strokeWidth": 1.2, "opacity": 1}}
              ]
            }
          ]
        }
      ]
    }
  ],
  "config": {
    "font": "Liberation Sans",
    "view": {"stroke": "black", "strokeWidth": 1.5},
    "axis": {
      "domain": false, "grid": false,
      "ticks": true, "tickColor": "black", "tickSize": 7, "tickWidth": 1.3,
      "labelColor": "black", "labelFont": "Liberation Sans", "labelFontSize": 18, "labelPadding": 8,
      "titleColor": "black", "titleFont": "Liberation Sans", "titleFontSize": 21, "titleFontWeight": "normal"
    },
    "axisX": {"labelExpr": "datum.value % 20 == 10 ? datum.value + '' : ''", "titlePadding": 18, "titleFontSize": 20, "labelFlush": false},
    "axisY": {"labelAngle": -90, "labelAlign": "center", "labelBaseline": "bottom", "titlePadding": 11},
    "title": {"font": "Liberation Sans", "fontSize": 21, "fontWeight": "bold", "color": "black", "offset": 12, "anchor": "middle"}
  }
}
